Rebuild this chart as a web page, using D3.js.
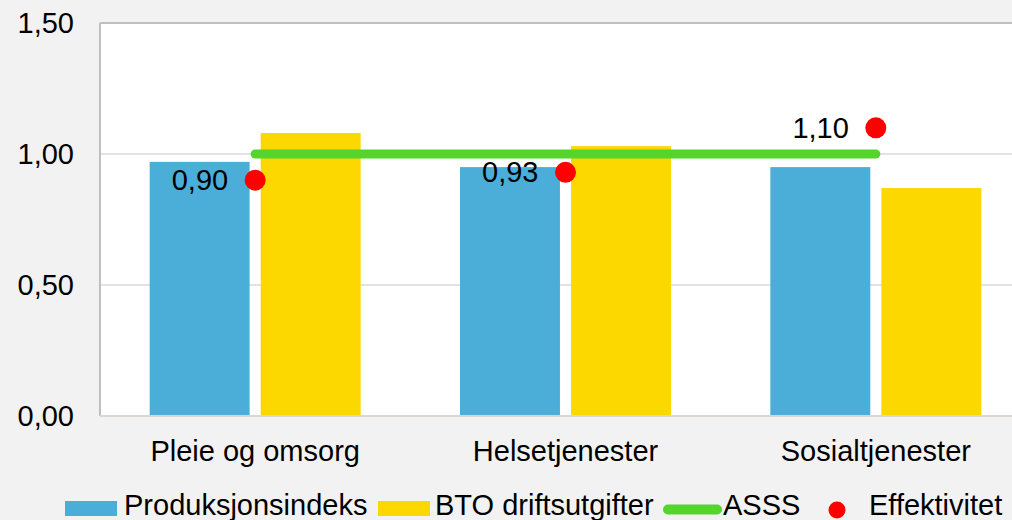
<!DOCTYPE html>
<html lang="no">
<head>
<meta charset="UTF-8">
<title>Effektivitet</title>
<script src="https://d3js.org/d3.v7.min.js"></script>
<style>
  body { margin: 0; background: #f2f2f2; }
  svg text { font-family: "Liberation Sans", Arial, sans-serif; fill: #000; }
</style>
</head>
<body>
<div id="chart"></div>
<script>
// data
const categories = ["Pleie og omsorg", "Helsetjenester", "Sosialtjenester"];
const produksjonsindeks = [0.97, 0.95, 0.95];
const btoDriftsutgifter = [1.08, 1.03, 0.87];
const asss = [1.00, 1.00, 1.00];
const effektivitet = [0.90, 0.93, 1.10];
const yTicks = [0, 0.5, 1.0, 1.5];

const W = 1012, H = 520;
const FS = 29;
const plot = { left: 100, top: 23, right: 1031, bottom: 416 };
const fmt = d3.format(".2f");
const comma = v => fmt(v).replace(".", ",");

const svg = d3.select("#chart").append("svg")
    .attr("width", W).attr("height", H);

svg.append("rect").attr("width", W).attr("height", H).attr("fill", "#f2f2f2");

const x = d3.scaleBand().domain(categories).range([plot.left, plot.right]);
const y = d3.scaleLinear().domain([0, 1.5]).range([plot.bottom, plot.top]);

const series = ["prod", "bto"];
const x1 = d3.scaleBand().domain(series).range([-105.5, 105.5]).paddingInner(0.1);

// plot area
svg.append("rect")
    .attr("x", plot.left).attr("y", plot.top)
    .attr("width", plot.right - plot.left).attr("height", plot.bottom - plot.top)
    .attr("fill", "#fff");

// gridlines
svg.append("g").selectAll("line")
    .data(yTicks.filter(d => d > 0))
    .join("line")
    .attr("x1", plot.left).attr("x2", plot.right)
    .attr("y1", d => y(d)).attr("y2", d => y(d))
    .attr("stroke", d => d === 1.5 ? "#bfbfbf" : "#d9d9d9")
    .attr("stroke-width", d => d === 1.5 ? 2 : 1.5);

svg.append("line")
    .attr("x1", plot.left).attr("x2", plot.left)
    .attr("y1", plot.top).attr("y2", plot.bottom)
    .attr("stroke", "#bfbfbf").attr("stroke-width", 2);

// y axis labels
const yAxis = d3.axisLeft(y).tickValues(yTicks).tickFormat(comma).tickSize(0).tickPadding(26);
const ya = svg.append("g").attr("transform", `translate(${plot.left},0)`).call(yAxis);
ya.select(".domain").remove();
ya.selectAll("text").attr("font-size", FS).attr("font-family", "Liberation Sans, Arial, sans-serif").attr("fill", "#000");

// bars
const rows = categories.map((c, i) => ({ c, prod: produksjonsindeks[i], bto: btoDriftsutgifter[i] }));
const colors = { prod: "#4aaed9", bto: "#fdd800" };
svg.append("g").selectAll("g")
    .data(rows)
    .join("g")
    .attr("transform", d => `translate(${x(d.c) + x.bandwidth() / 2},0)`)
    .selectAll("rect")
    .data(d => series.map(k => ({ k, v: d[k] })))
    .join("rect")
    .attr("x", d => x1(d.k))
    .attr("width", x1.bandwidth())
    .attr("y", d => y(d.v))
    .attr("height", d => y(0) - y(d.v))
    .attr("fill", d => colors[d.k]);

// bottom axis line
svg.append("line")
    .attr("x1", plot.left).attr("x2", plot.right)
    .attr("y1", plot.bottom).attr("y2", plot.bottom)
    .attr("stroke", "#ddd5d2").attr("stroke-width", 2);

// x axis labels
const xAxis = d3.axisBottom(x).tickSize(0).tickPadding(24);
const xa = svg.append("g").attr("transform", `translate(0,${plot.bottom})`).call(xAxis);
xa.select(".domain").remove();
xa.selectAll("text").attr("font-size", FS).attr("font-family", "Liberation Sans, Arial, sans-serif").attr("fill", "#000");

// ASSS line
const cx = c => x(c) + x.bandwidth() / 2;
const line = d3.line().x((d, i) => cx(categories[i])).y(d => y(d));
svg.append("path")
    .datum(asss)
    .attr("d", line)
    .attr("fill", "none")
    .attr("stroke", "#55d42b")
    .attr("stroke-width", 9)
    .attr("stroke-linecap", "round");

// Effektivitet points + labels
const pts = svg.append("g").selectAll("g")
    .data(effektivitet)
    .join("g")
    .attr("transform", (d, i) => `translate(${cx(categories[i])},${y(d)})`);
pts.append("circle").attr("r", 10.5).attr("fill", "#ff0000");
pts.append("text")
    .attr("x", -27).attr("dy", "0.35em")
    .attr("text-anchor", "end")
    .attr("font-size", FS)
    .text(d => comma(d));

// legend
const lg = svg.append("g").attr("transform", "translate(0,508.5)");
lg.append("rect").attr("x", 65).attr("y", -7.5).attr("width", 52).attr("height", 15).attr("fill", colors.prod);
lg.append("text").attr("x", 124).attr("y", 6.5).attr("font-size", FS).text("Produksjonsindeks");
lg.append("rect").attr("x", 378).attr("y", -7.5).attr("width", 52).attr("height", 15).attr("fill", colors.bto);
lg.append("text").attr("x", 435).attr("y", 6.5).attr("font-size", FS).text("BTO driftsutgifter");
lg.append("line").attr("x1", 668).attr("x2", 717).attr("y1", 1).attr("y2", 1)
    .attr("stroke", "#55d42b").attr("stroke-width", 10).attr("stroke-linecap", "round");
lg.append("text").attr("x", 723).attr("y", 6.5).attr("font-size", FS).text("ASSS");
lg.append("circle").attr("cx", 837).attr("cy", 1.5).attr("r", 8.5).attr("fill", "#ff0000");
lg.append("text").attr("x", 869).attr("y", 6.5).attr("font-size", FS).text("Effektivitet");
</script>
</body>
</html>
